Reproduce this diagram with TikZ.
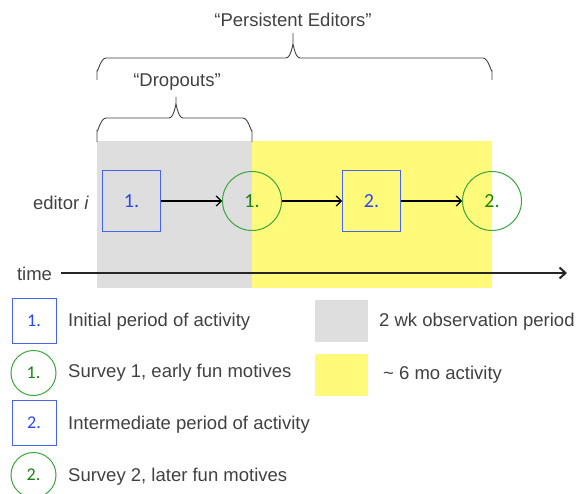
\documentclass[tikz,border=0pt]{standalone}
\usepackage{fontspec}
\setmainfont{Liberation Sans}
\newfontfamily\numfont{Carlito}
\usetikzlibrary{arrows.meta}
\definecolor{txt}{RGB}{65,65,65}
\definecolor{bluebd}{RGB}{70,100,240}
\definecolor{bluetx}{RGB}{40,70,255}
\definecolor{greenbd}{RGB}{60,165,60}
\definecolor{greentx}{RGB}{25,130,25}
\definecolor{grayfill}{RGB}{222,222,222}
\definecolor{yelfill}{RGB}{255,250,122}
\tikzset{
  lbl/.style={font=\fontsize{18.5}{21}\selectfont, text=txt, inner sep=0pt},
  actbox/.style={draw=bluebd, line width=1pt, minimum width=58pt, minimum height=60pt, inner sep=0pt, font=\numfont\fontsize{20}{22}\selectfont, text=bluetx},
  survcirc/.style={circle, draw=greenbd, line width=1pt, minimum size=59pt, inner sep=0pt, font=\numfont\fontsize{20}{22}\selectfont, text=greentx},
  lgbox/.style={draw=bluebd, line width=1pt, minimum width=44pt, minimum height=45pt, inner sep=0pt, font=\numfont\fontsize{18}{20}\selectfont, text=bluetx},
  lgcirc/.style={circle, draw=greenbd, line width=1pt, minimum size=45pt, inner sep=0pt, font=\numfont\fontsize{18}{20}\selectfont, text=greentx},
  flow/.style={line width=1.2pt, -{Straight Barb[length=5pt,width=10pt]}},
  bracepath/.style={line width=0.9pt, draw=txt}
}
\begin{document}
\begin{tikzpicture}[x=1pt,y=-1pt]
\useasboundingbox (0,0) rectangle (577,494);
% period backgrounds
\fill[grayfill] (97,141) rectangle (252,288);
\fill[yelfill] (252,141) rectangle (492,288);
% braces
\draw[bracepath] (97,142) -- (97,130) to[out=-90,in=180] (106,118) -- (169,118) to[out=0,in=90] (176,106) -- (176,97);
\draw[bracepath] (252,142) -- (252,130) to[out=-90,in=0] (243,118) -- (183,118) to[out=180,in=90] (176,106);
\draw[bracepath] (97,80) -- (97,70) to[out=-90,in=180] (106,58) -- (286,58) to[out=0,in=90] (293,46) -- (293,33);
\draw[bracepath] (492,80) -- (492,70) to[out=-90,in=0] (483,58) -- (300,58) to[out=180,in=90] (293,46);
\node[lbl] (persist) at (293,20) {“Persistent Editors”};
\node[lbl] (dropouts) at (177,82) {“Dropouts”};
% timeline
\node[lbl] (editor) at (61,203) {editor \textit{i}};
\node[actbox] (b1) at (131.5,201) {1.};
\node[survcirc] (c1) at (252,201) {1.};
\node[actbox] (b2) at (371.5,201) {2.};
\node[survcirc] (c2) at (492,201) {2.};
\draw[flow] (b1.east) -- (c1.west);
\draw[flow] (c1.east) -- (b2.west);
\draw[flow] (b2.east) -- (c2.west);
\node[lbl] (time) at (34.5,274) {time};
\coordinate (tstart) at (61,273);
\coordinate (tend) at (567,273);
\draw[line width=2pt, draw=black!85, -{Straight Barb[length=6pt,width=11pt]}] (tstart) -- (tend);
% legend
\node[lgbox] (lb1) at (34,320.5) {1.};
\node[lgcirc] (lc1) at (33.5,373) {1.};
\node[lgbox] (lb2) at (34,423) {2.};
\node[lgcirc] (lc2) at (33.5,475) {2.};
\node[lbl, anchor=west] (t1) at (68,322) {Initial period of activity};
\node[lbl, anchor=west] (t2) at (68,373) {Survey 1, early fun motives};
\node[lbl, anchor=west] (t3) at (68,425) {Intermediate period of activity};
\node[lbl, anchor=west] (t4) at (68,477) {Survey 2, later fun motives};
\node[fill=grayfill, minimum width=53pt, minimum height=42pt, inner sep=0pt] (lg) at (341.5,321) {};
\node[fill=yelfill, minimum width=53pt, minimum height=42pt, inner sep=0pt] (ly) at (341.5,375) {};
\node[lbl, anchor=west] (t5) at (379,322) {2 wk observation period};
\node[lbl, anchor=west] (t6) at (383,375) {\char`\~\ 6 mo activity};
\end{tikzpicture}
\end{document}
